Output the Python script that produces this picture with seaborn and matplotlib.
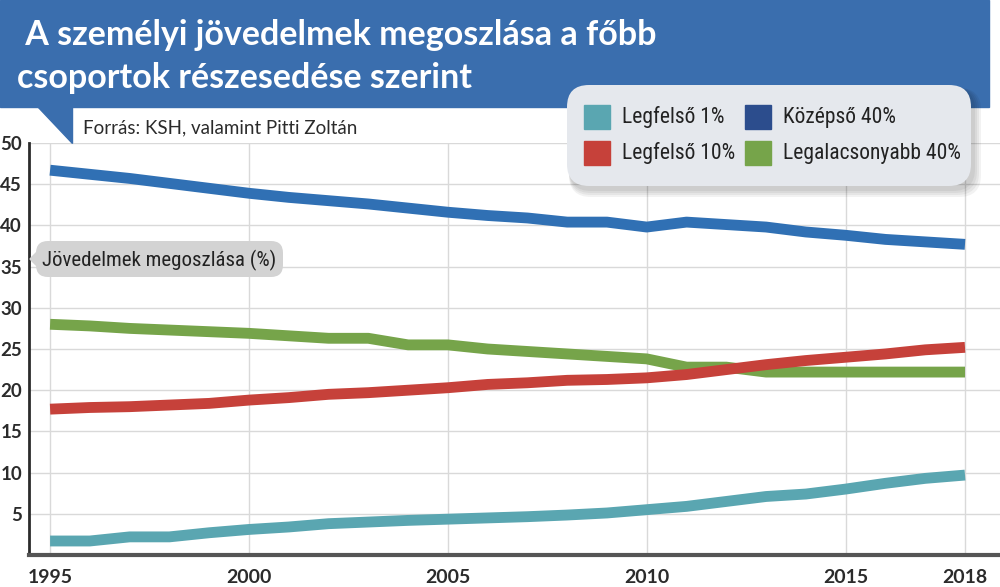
import matplotlib
matplotlib.use("Agg")
import matplotlib.pyplot as plt
import matplotlib.font_manager as fm
from matplotlib.patches import Rectangle, Polygon, FancyBboxPatch
from matplotlib.transforms import Affine2D
import seaborn as sns
import pandas as pd

# adatok (leolvasva az eredeti ábráról)
years = list(range(1995, 2019))
top1 = [1.7, 1.7, 2.2, 2.2, 2.7, 3.1, 3.4, 3.8, 4.0, 4.2, 4.35, 4.5,
        4.65, 4.85, 5.1, 5.5, 5.9, 6.5, 7.1, 7.4, 8.0, 8.7, 9.3, 9.7]
top10 = [17.7, 17.9, 18.0, 18.2, 18.4, 18.8, 19.1, 19.5, 19.7, 20.0, 20.3, 20.7,
         20.9, 21.2, 21.3, 21.5, 21.9, 22.5, 23.1, 23.6, 24.0, 24.4, 24.9, 25.2]
middle40 = [46.7, 46.2, 45.7, 45.1, 44.5, 43.9, 43.4, 43.0, 42.6, 42.1, 41.6, 41.2,
            40.9, 40.4, 40.4, 39.8, 40.4, 40.1, 39.8, 39.2, 38.8, 38.3, 38.0, 37.7]
bottom40 = [28.0, 27.8, 27.5, 27.3, 27.1, 26.9, 26.6, 26.3, 26.3, 25.5, 25.5, 25.0,
            24.7, 24.4, 24.1, 23.8, 22.8, 22.8, 22.2, 22.2, 22.2, 22.2, 22.2, 22.2]

series_names = ["Legfelső 1%", "Legfelső 10%", "Középső 40%", "Legalacsonyabb 40%"]
line_colors = ["#5aa6b1", "#c6413a", "#3070b4", "#76a44a"]
legend_colors = ["#5aa6b1", "#c6413a", "#2c4d8d", "#76a44a"]
x_ticks = [1995, 2000, 2005, 2010, 2015, 2018]
y_ticks = [5, 10, 15, 20, 25, 30, 35, 40, 45, 50]

title_lines = [" A személyi jövedelmek megoszlása a főbb", "csoportok részesedése szerint"]
source_text = "Forrás: KSH, valamint Pitti Zoltán"
axis_note = "Jövedelmek megoszlása (%)"

df = pd.DataFrame({
    "year": years * 4,
    "value": top1 + top10 + middle40 + bottom40,
    "group": sum([[n] * len(years) for n in series_names], []),
})

sns.set_theme(style="white")
avail = {f.name for f in fm.fontManager.ttflist}
narrow = next((f for f in ["Roboto Condensed", "Liberation Sans Narrow", "Open Sans Condensed"]
               if f in avail), "Roboto")
plt.rcParams["font.family"] = ["Lato", "DejaVu Sans"]

W, H = 1000, 587
fig = plt.figure(figsize=(W / 100, H / 100), dpi=100)
# pixel koordináták, y lefelé
T = Affine2D().scale(1 / W, -1 / H).translate(0, 1) + fig.transFigure

ax = fig.add_axes([29 / W, 1 - 555 / H, 971 / W, 412 / H])
draw_order = ["Legfelső 1%", "Középső 40%", "Legalacsonyabb 40%", "Legfelső 10%"]
sns.lineplot(data=df, x="year", y="value", hue="group", hue_order=draw_order,
             palette=dict(zip(series_names, line_colors)), linewidth=7.8,
             legend=False, ax=ax)
for ln in ax.lines:
    ln.set_solid_capstyle("butt")
    ln.set_solid_joinstyle("round")

ax.set_xlim(1994.47, 2018.88)
ax.set_ylim(0, 50)
ax.set_xticks(x_ticks)
ax.set_yticks(y_ticks)
ax.set_xlabel("")
ax.set_ylabel("")
ax.grid(True, color="#d9d9d9", linewidth=1)
ax.set_axisbelow(True)
for side in ["top", "right"]:
    ax.spines[side].set_visible(False)
ax.spines["left"].set_color("#2b2b2b")
ax.spines["left"].set_linewidth(2)
ax.spines["bottom"].set_color("#555555")
ax.spines["bottom"].set_linewidth(3)
ax.tick_params(axis="both", length=0, labelcolor="#2b2b2b")
ax.tick_params(axis="y", pad=5, labelsize=13.5)
ax.tick_params(axis="x", pad=10, labelsize=14)
for lab in ax.get_xticklabels() + ax.get_yticklabels():
    lab.set_fontweight("bold")

# fejléc
fig.add_artist(Rectangle((0, 0), 989, 107, transform=T, color="#3a6eae", zorder=1))
fig.add_artist(Polygon([(37, 106), (72, 106), (72, 143)], transform=T,
                       color="#3a6eae", zorder=1))
fig.text(17, 45, title_lines[0], transform=T, color="white", fontsize=24.5,
         fontweight="bold", va="baseline", ha="left")
fig.text(17, 88, title_lines[1], transform=T, color="white", fontsize=24.5,
         fontweight="bold", va="baseline", ha="left")
fig.text(83, 133, source_text, transform=T, color="#2b2b2b", fontsize=13.5,
         va="baseline", ha="left")

# jelmagyarázat doboz árnyékkal
for i in range(4):
    d = 2 + i * 2
    fig.add_artist(FancyBboxPatch((567 + 2, 85 + 3), 404 + d, 101 + d, transform=T,
                                  boxstyle="round,pad=0,rounding_size=22",
                                  facecolor="#000000", alpha=0.05, edgecolor="none", zorder=3))
fig.add_artist(FancyBboxPatch((567, 85), 404, 101, transform=T,
                              boxstyle="round,pad=0,rounding_size=22",
                              facecolor="#e5e8ed", edgecolor="none", zorder=4))
legend_pos = [(584, 105), (584, 141), (745, 105), (745, 141)]
for name, col, (lx, ly) in zip(series_names, legend_colors, legend_pos):
    fig.add_artist(Rectangle((lx, ly), 26, 24, transform=T, color=col, zorder=5))
    fig.text(lx + 38, ly + 12, name, transform=T, fontsize=15.5, family=[narrow, "DejaVu Sans"],
             color="#222222", va="center", ha="left", zorder=6)

# tengelyfelirat buborék
fig.add_artist(FancyBboxPatch((36, 241), 247, 36, transform=T,
                              boxstyle="round,pad=0,rounding_size=12",
                              facecolor="#d3d3d3", edgecolor="none", zorder=4))
fig.add_artist(Polygon([(30, 259), (44, 245), (44, 273)], transform=T,
                       color="#d3d3d3", zorder=4))
fig.text(42, 260, axis_note, transform=T, fontsize=15, family=[narrow, "DejaVu Sans"],
         color="#222222", va="center", ha="left", zorder=5)

fig.savefig("out.png", dpi=100)
